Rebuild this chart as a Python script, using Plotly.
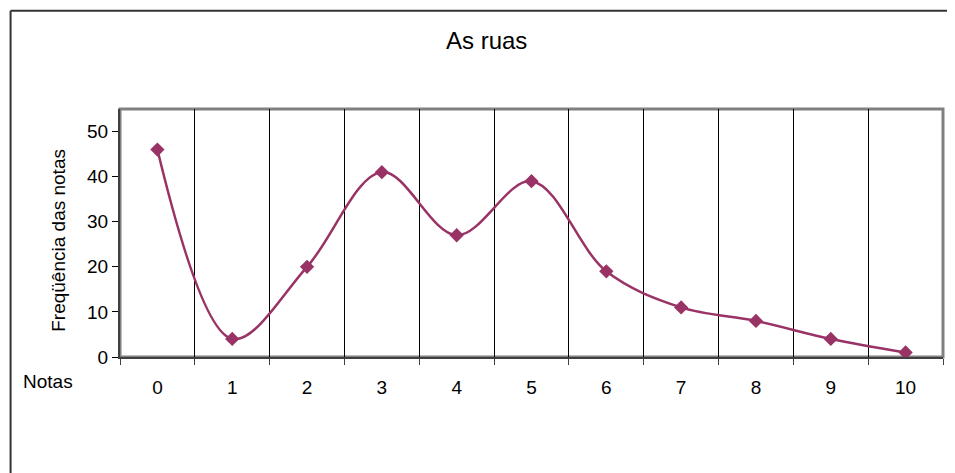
import plotly.graph_objects as go

notas = list(range(11))
frequencia = [46, 4, 20, 41, 27, 39, 19, 11, 8, 4, 1]
y_ticks = [0, 10, 20, 30, 40, 50]

# the page body has an 8px margin, so the figure is drawn 8px in from the top-left
OFF = 8
W, H = 955 - OFF, 473 - OFF
L, R, T, B = 119.5 - OFF, 943 - OFF, 108.5 - OFF, 357 - OFF
pw, ph = R - L, B - T


def px(x):
    return (x - OFF - L) / pw


def py(y):
    return (B - (y - OFF)) / ph


FONT = "Liberation Sans, Arial, sans-serif"
COL = "#993366"

fig = go.Figure()
fig.add_trace(go.Scatter(
    x=notas, y=frequencia, mode="lines+markers",
    line=dict(color=COL, width=2.5, shape="spline", smoothing=1.0),
    marker=dict(symbol="diamond", size=11, color=COL),
    showlegend=False,
))

fig.update_layout(
    width=W, height=H,
    margin=dict(l=L, r=W - R, t=T, b=H - B),
    paper_bgcolor="white", plot_bgcolor="white",
    font=dict(family=FONT, size=19, color="black"),
    xaxis=dict(
        range=[-0.5, 10.5], tickvals=notas, ticktext=[str(n) for n in notas],
        ticks="outside", ticklen=12, tickcolor="rgba(0,0,0,0)",
        showgrid=False, zeroline=False,
        showline=True, linecolor="#404040", linewidth=2,
        minor=dict(tick0=-0.5, dtick=1, ticks="outside", ticklen=6,
                   tickcolor="#404040", showgrid=True, gridcolor="black", gridwidth=1),
        tickfont=dict(size=19),
    ),
    yaxis=dict(
        range=[0, 55], tickvals=y_ticks, ticks="outside", ticklen=6,
        tickcolor="black", showgrid=False, zeroline=False,
        showline=True, linecolor="#404040", linewidth=2,
        tickfont=dict(size=19),
    ),
    shapes=[
        dict(type="rect", xref="paper", yref="paper",
             x0=0, x1=1, y0=0, y1=1, line=dict(color="#808080", width=3), layer="below"),
        # outer chart frame: only the top and left edges fall inside the picture
        dict(type="line", xref="paper", yref="paper",
             x0=px(10), x1=px(990), y0=py(10), y1=py(10),
             line=dict(color="#333333", width=2)),
        dict(type="line", xref="paper", yref="paper",
             x0=px(10), x1=px(10), y0=py(10), y1=py(500),
             line=dict(color="#333333", width=2)),
    ],
    annotations=[
        dict(text="As ruas", xref="paper", yref="paper", x=px(486), y=py(40),
             showarrow=False, font=dict(size=24), xanchor="center", yanchor="middle"),
        dict(text="Notas", xref="paper", yref="paper", x=px(47.5), y=py(382),
             showarrow=False, font=dict(size=19), xanchor="center", yanchor="middle"),
        dict(text="Freqüência das notas", xref="paper", yref="paper", x=px(58), y=py(240),
             showarrow=False, font=dict(size=19), textangle=-90,
             xanchor="center", yanchor="middle"),
    ],
)

fig.write_html("out.html", config={"displayModeBar": False})
